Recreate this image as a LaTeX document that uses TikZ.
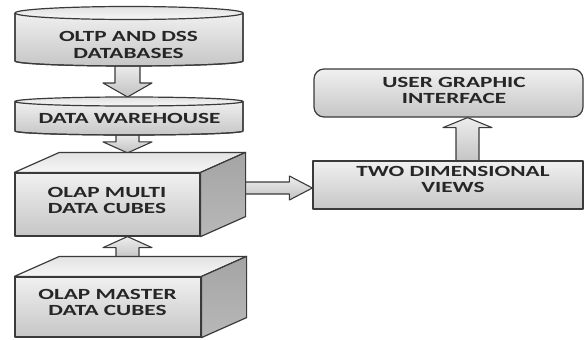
\documentclass[tikz,border=0pt]{standalone}
\usepackage{fontspec}
\setmainfont{Carlito}
\usepackage{graphicx}
\usetikzlibrary{calc}

\definecolor{edge}{HTML}{3A3A3A}
\definecolor{ink}{HTML}{262626}
\definecolor{faceTop}{HTML}{F0F0F0}
\definecolor{faceBot}{HTML}{C6C6C6}
\definecolor{sideTop}{HTML}{A4A4A4}
\definecolor{sideBot}{HTML}{B8B8B8}
\definecolor{lidTop}{HTML}{E2E2E2}
\definecolor{lidBot}{HTML}{F6F6F6}
\definecolor{arrowTop}{HTML}{EDEDED}
\definecolor{arrowBot}{HTML}{C2C2C2}

\pgfdeclarelayer{back}
\pgfsetlayers{back,main}

% wide caption text, two lines allowed
\newcommand\widetext[1]{\scalebox{1.5}[1]{\begin{tabular}{@{}c@{}}#1\end{tabular}}}

% block arrow: [style]{start}{end}{shaft half width}{head half width}{head length}
\newcommand\blockarrow[6][]{%
  \path (#2) coordinate (ba-s) (#3) coordinate (ba-e);
  \path ($(ba-e)!#6pt!(ba-s)$) coordinate (ba-h);
  \draw[blockarrow,#1]
    ($(ba-s)!#4pt!90:(ba-e)$) -- ($(ba-h)!#4pt!-90:(ba-s)$) --
    ($(ba-h)!#5pt!-90:(ba-s)$) -- (ba-e) --
    ($(ba-h)!#5pt!90:(ba-s)$) -- ($(ba-h)!#4pt!90:(ba-s)$) --
    ($(ba-s)!#4pt!-90:(ba-e)$) -- cycle;
}

\tikzset{
  outline/.style={draw=edge, line width=1.2pt, line join=round},
  front/.style={outline, top color=faceTop, bottom color=faceBot, inner sep=0pt},
  sideface/.style={outline, top color=sideTop, bottom color=sideBot},
  topface/.style={outline, top color=lidTop, bottom color=lidBot},
  anchorbox/.style={inner sep=0pt, outer sep=0pt},
  caption/.style={inner sep=0pt, text=ink, font=\fontsize{15.5}{16}\selectfont\bfseries},
  blockarrow/.style={outline, line width=1.1pt, top color=arrowTop, bottom color=arrowBot},
}

\begin{document}
\begin{tikzpicture}[x=1pt,y=-1pt]
\useasboundingbox (0,0) rectangle (584,340);

% ---- OLTP / DSS databases (cylinder) ----
\path node[anchorbox, minimum width=228pt, minimum height=48pt] (oltp) at (129,37) {};
\path[front] (oltp.north west) -- (oltp.south west)
  arc[start angle=180, end angle=0, x radius=114, y radius=5] -- (oltp.north east) -- cycle;
\draw[outline] (oltp.north west) -- (oltp.south west)
  arc[start angle=180, end angle=0, x radius=114, y radius=5] -- (oltp.north east);
\draw[topface] (oltp.north) ellipse[x radius=114, y radius=6.5];
\node[caption] (oltp-t) at (128.5,46.8) {\widetext{OLTP AND DSS\\DATABASES}};

% ---- data warehouse (cylinder) ----
\path node[anchorbox, minimum width=228pt, minimum height=29.5pt] (dw) at (129,116.25) {};
\path[front] (dw.north west) -- (dw.south west)
  arc[start angle=180, end angle=0, x radius=114, y radius=4] -- (dw.north east) -- cycle;
\draw[outline] (dw.north west) -- (dw.south west)
  arc[start angle=180, end angle=0, x radius=114, y radius=4] -- (dw.north east);
\draw[topface] (dw.north) ellipse[x radius=114, y radius=4.5];
\node[caption] (dw-t) at (129.5,119.8) {\widetext{DATA WAREHOUSE}};

% ---- OLAP multi data cubes ----
\node[front, minimum width=185pt, minimum height=63pt] (multi) at (107.5,204.5) {};
\draw[topface] (multi.north west) -- ++(45,-20) -- ($(multi.north east)+(45,-20)$) -- (multi.north east) -- cycle;
\draw[sideface] (multi.north east) -- ++(45,-20) -- ($(multi.south east)+(45,-20)$) -- (multi.south east) -- cycle;
\node[caption] (multi-t) at (107,201.8) {\widetext{OLAP MULTI\\DATA CUBES}};

% ---- OLAP master data cubes ----
\node[front, minimum width=186pt, minimum height=60pt] (master) at (108,307) {};
\draw[topface] (master.north west) -- ++(45,-20) -- ($(master.north east)+(45,-20)$) -- (master.north east) -- cycle;
\draw[sideface] (master.north east) -- ++(45,-20) -- ($(master.south east)+(45,-20)$) -- (master.south east) -- cycle;
\node[caption] (master-t) at (107.5,304.3) {\widetext{OLAP MASTER\\DATA CUBES}};

% ---- two dimensional views ----
\node[front, minimum width=270pt, minimum height=48pt] (tdv) at (448,185) {};
\node[caption] (tdv-t) at (453,181.3) {\widetext{TWO DIMENSIONAL\\VIEWS}};

% ---- user graphic interface ----
\node[front, rounded corners=10pt, minimum width=269pt, minimum height=48pt] (ugi) at (448.5,93) {};
\node[caption] (ugi-t) at (454,92.3) {\widetext{USER GRAPHIC\\INTERFACE}};

% ---- block arrows, behind the boxes ----
\begin{pgfonlayer}{back}
  \blockarrow{$(oltp.south)+(-1.5,3)$}{$(dw.north)+(-1.5,-4.5)$}{12.5}{24.5}{14}
  \blockarrow{$(dw.south)+(-1.5,2)$}{$(multi.north)+(20,-19.5)$}{11.5}{24.5}{11}
  \blockarrow{$(master.north)+(19.5,-17)$}{$(multi.south)+(20,0)$}{11.5}{24.5}{11}
  \blockarrow{$(multi.east)+(40,-16.5)$}{$(tdv.west)+(0,3)$}{6}{12}{23}
  \blockarrow{$(tdv.north)+(19.5,3)$}{$(ugi.south)+(19,0)$}{11.5}{24.5}{10}
\end{pgfonlayer}
\end{tikzpicture}
\end{document}
